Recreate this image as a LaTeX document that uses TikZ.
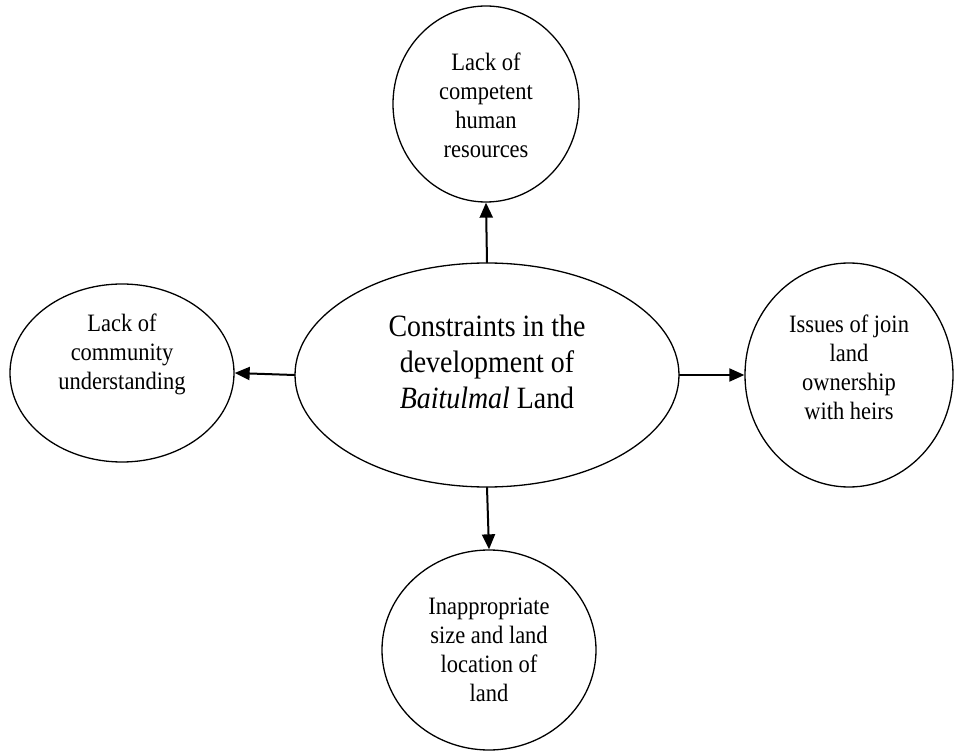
\documentclass[tikz,border=0pt]{standalone}
\usepackage{fontspec}
\setmainfont[FakeStretch=0.9]{Liberation Serif}
\usetikzlibrary{arrows.meta,shapes.geometric}

\tikzset{
  oval/.style={draw,ellipse,line width=1.3pt,inner sep=0pt},
  tag/.style={align=center,font=\fontsize{25}{29}\selectfont},
  bigtag/.style={align=center,font=\fontsize{31}{36}\selectfont},
  link/.style={-{Triangle[length=15pt,width=13pt]},line width=2pt},
}

\begin{document}
\begin{tikzpicture}[line cap=round,line join=round,x=1pt,y=-1pt]
	\useasboundingbox (0,0) rectangle (954,751);
	%%%%%%%%%%%%%%% S H A P E S %%%%%%%%%%%%%%%%
	%centre
	\node[oval,minimum width=384pt,minimum height=224pt] (core) at (487,375) {};
	%top
	\node[oval,minimum width=186pt,minimum height=196pt] (top) at (486,104) {};
	%left
	\node[oval,minimum width=224pt,minimum height=178pt] (left) at (122,373) {};
	%right
	\node[oval,minimum width=208pt,minimum height=224pt] (right) at (849,375) {};
	%bottom
	\node[oval,minimum width=214pt,minimum height=200pt] (bottom) at (489,650) {};
	%%%%%%%%%%%%%%% A R R O W S %%%%%%%%%%%%%%%%
	\draw[link] (core.north) -- (top.south);
	\draw[link] (core.west) -- (left.east);
	\draw[link] (core.east) -- (right.west);
	\draw[link] (core.south) -- (bottom.north);
	%%%%%%%%%%%%%%% T A G S %%%%%%%%%%%%%%%%
	\node[bigtag] (coretxt) at ([yshift=13pt]core.center) {Constraints in the\\development of\\\textit{Baitulmal} Land};
	\node[tag] (toptxt) at ([yshift=-1pt]top.center) {Lack of\\competent\\human\\resources};
	\node[tag] (lefttxt) at ([yshift=19pt]left.center) {Lack of\\community\\understanding};
	\node[tag] (righttxt) at ([yshift=8pt]right.center) {Issues of join\\land\\ownership\\with heirs};
	\node[tag] (bottomtxt) at (bottom.center) {Inappropriate\\size and land\\location of\\land};
\end{tikzpicture}
\end{document}
